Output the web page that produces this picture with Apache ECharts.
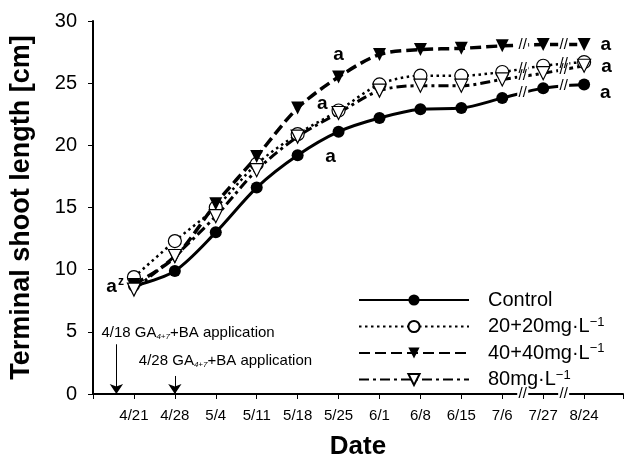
<!DOCTYPE html>
<html>
<head>
<meta charset="utf-8">
<script src="https://cdn.jsdelivr.net/npm/echarts@6/dist/echarts.min.js"></script>
<style>
  html, body { margin: 0; padding: 0; background: #fff; }
  #main { width: 626px; height: 465px; }
</style>
</head>
<body>
<div id="main"></div>
<script>
// x positions: 1..12 are the sampling dates, 0 is the axis origin
const dates = ["4/21", "4/28", "5/4", "5/11", "5/18", "5/25", "6/1", "6/8", "6/15", "7/6", "7/27", "8/24"];
const control = [8.7, 9.9, 13.0, 16.6, 19.2, 21.1, 22.2, 22.9, 23.0, 23.8, 24.6, 24.9];
const ga20 = [9.4, 12.3, 15.0, 18.5, 20.9, 22.8, 24.9, 25.6, 25.6, 25.9, 26.4, 26.7];
const ga40 = [8.8, 11.0, 15.3, 19.1, 23.0, 25.5, 27.3, 27.7, 27.8, 28.0, 28.1, 28.1];
const ga80 = [8.4, 11.1, 14.3, 18.0, 20.7, 22.6, 24.4, 24.8, 24.8, 25.3, 25.8, 26.4];
const yTicks = [0, 5, 10, 15, 20, 25, 30];

// application dates (4/18 is 3 days before 4/21)
const applDays = ["4/18", "4/28"];
const applX = [1 - 3 / 7, 2];
const applTop = [4.0, 1.45];

// axis breaks between 7/6-7/27 and 7/27-8/24
const breaks = [10.5, 11.5];

const FONT = "Liberation Sans, Arial, sans-serif";

let chart = echarts.init(document.getElementById("main"));

function breakMarks(vals) {
  return breaks.map(function(b) {
    return { coord: [b, (vals[b - 1.5] + vals[b - 0.5]) / 2] };
  });
}

function withLabels(vals, spots) {
  return vals.map(function(v, i) {
    let s = spots[i];
    if (!s) return [i + 1, v];
    return {
      value: [i + 1, v],
      label: {
        show: true,
        formatter: s.text || "a",
        position: s.pos,
        distance: s.dist == null ? 5 : s.dist,
        offset: s.offset || [0, 0],
        fontSize: 19,
        fontWeight: "bold",
        fontFamily: FONT,
        color: "#000",
        rich: {
          sup: { fontSize: 12, fontWeight: "bold", fontFamily: FONT, color: "#000", verticalAlign: "top", padding: [0, 0, 10, 1] }
        }
      }
    };
  });
}

const markBreak = {
  symbol: "rect",
  symbolSize: [11, 15],
  itemStyle: { color: "#fff" },
  label: { show: true, formatter: "//", position: "inside", color: "#000", fontSize: 15, fontFamily: FONT }
};

let option = {
  animation: false,
  backgroundColor: "#fff",
  grid: { left: 92, right: 0, top: 21, bottom: 70 },
  legend: {
    orient: "vertical",
    left: 353,
    top: 284,
    itemWidth: 110,
    itemHeight: 14,
    itemGap: 4.5,
    data: ["Control", "20+20", "40+40", "80"],
    formatter: function(name) {
      return name === "Control" ? name : name + "mg·L{sup|−1}";
    },
    textStyle: {
      fontSize: 20,
      fontFamily: FONT,
      color: "#000",
      lineHeight: 22,
      padding: [0, 0, 0, 14],
      rich: {
        sup: { fontSize: 13, fontFamily: FONT, color: "#000", verticalAlign: "top", lineHeight: 13 }
      }
    }
  },
  xAxis: {
    type: "value",
    min: 0,
    max: 12.95,
    interval: 1,
    name: "Date",
    nameLocation: "middle",
    nameGap: 40,
    nameTextStyle: { fontSize: 26, fontWeight: "bold", fontFamily: FONT, color: "#000" },
    axisLine: { show: true, lineStyle: { color: "#000", width: 2 } },
    axisTick: { show: true, length: 5, lineStyle: { color: "#000", width: 1 } },
    axisLabel: {
      margin: 14,
      fontSize: 15,
      fontFamily: FONT,
      color: "#000",
      formatter: function(v) { return dates[v - 1] || ""; }
    },
    splitLine: { show: false }
  },
  yAxis: {
    type: "value",
    min: 0,
    max: 30,
    interval: 5,
    name: "Terminal shoot length [cm]",
    nameLocation: "middle",
    nameGap: 58,
    nameTextStyle: { fontSize: 27, fontWeight: "bold", fontFamily: FONT, color: "#000" },
    axisLine: { show: true, lineStyle: { color: "#000", width: 2 } },
    axisTick: { show: true, length: 5, lineStyle: { color: "#000", width: 1 } },
    axisLabel: {
      margin: 16,
      fontSize: 20,
      fontFamily: FONT,
      color: "#000",
      formatter: function(v) { return yTicks.indexOf(v) >= 0 ? String(v) : ""; }
    },
    splitLine: { show: false }
  },
  series: [
    {
      name: "Control",
      type: "line",
      smooth: 0.3,
      symbol: "circle",
      symbolSize: 12,
      itemStyle: { color: "#000" },
      lineStyle: { color: "#000", width: 3, type: "solid" },
      data: withLabels(control, {
        0: { text: "a{sup|z}", pos: "left", dist: 4, offset: [0, 1] },
        5: { pos: "bottom", dist: 6, offset: [-8, 4] },
        11: { pos: "right", dist: 10, offset: [0, 8] }
      }),
      markPoint: Object.assign({}, markBreak, {
        data: breakMarks(control).concat(
          breaks.map(function(b) { return { coord: [b, 0], symbolSize: [11, 8] }; }),
          applDays.map(function(d, k) {
            return {
              coord: [applX[k], applTop[k]],
              symbolSize: 0,
              label: {
                show: true,
                position: "inside",
                align: "left",
                offset: k === 0 ? [-15, -11] : [-36, -15],
                formatter: d + " GA{sub|4+7}+BA application",
                fontSize: 15,
                fontFamily: FONT,
                color: "#000",
                rich: {
                  sub: { fontSize: 8, fontStyle: "italic", fontFamily: FONT, color: "#000", verticalAlign: "bottom", padding: [6, 0, 0, 0] }
                }
              }
            };
          })
        )
      }),
      markLine: {
        silent: true,
        symbol: ["none", "arrow"],
        symbolSize: 10,
        lineStyle: { color: "#000", width: 1, type: "solid" },
        label: { show: false },
        data: applX.map(function(x, k) {
          return [{ coord: [x, applTop[k]] }, { coord: [x, 0] }];
        })
      }
    },
    {
      name: "20+20",
      type: "line",
      smooth: 0.3,
      symbol: "circle",
      symbolSize: 13,
      itemStyle: { color: "#fff", borderColor: "#000", borderWidth: 1.2 },
      lineStyle: { color: "#000", width: 2.5, type: [2.5, 3.5] },
      data: withLabels(ga20, {
        11: { pos: "right", dist: 10, offset: [0, 5] }
      }),
      markPoint: Object.assign({}, markBreak, { data: breakMarks(ga20) })
    },
    {
      name: "40+40",
      type: "line",
      smooth: 0.3,
      symbol: "triangle",
      symbolRotate: 180,
      symbolSize: 13,
      itemStyle: { color: "#000" },
      lineStyle: { color: "#000", width: 3.5, type: [11, 5] },
      data: withLabels(ga40, {
        5: { pos: "top", dist: 6, offset: [0, 0] },
        11: { pos: "right", dist: 10, offset: [0, 0] }
      }),
      markPoint: Object.assign({}, markBreak, { data: breakMarks(ga40) })
    },
    {
      name: "80",
      type: "line",
      smooth: 0.3,
      symbol: "triangle",
      symbolRotate: 180,
      symbolSize: 13,
      itemStyle: { color: "#fff", borderColor: "#000", borderWidth: 1.2 },
      lineStyle: { color: "#000", width: 3, type: [10, 4, 3, 4] },
      data: withLabels(ga80, {
        5: { pos: "left", dist: 4, offset: [0, -9] }
      }),
      markPoint: Object.assign({}, markBreak, { data: breakMarks(ga80) })
    }
  ]
};

chart.setOption(option);
</script>
</body>
</html>
